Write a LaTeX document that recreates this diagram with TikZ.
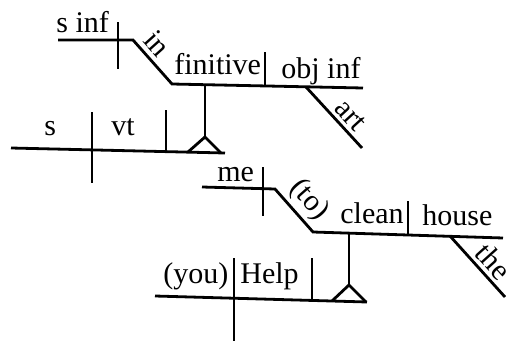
\documentclass[tikz,border=0pt]{standalone}
\usepackage{fontspec}
\setmainfont{Liberation Serif}
\begin{document}
\begin{tikzpicture}[x=0.5pt,y=-0.5pt, line width=1.4pt,
  ln/.style={draw=black, line width=1.4pt},
  lbl/.style={font=\fontsize{15}{18}\selectfont, inner sep=0pt, anchor=base west},
  rlbl/.style={font=\fontsize{15}{18}\selectfont, inner sep=0pt, anchor=base}]
\useasboundingbox (0,0) rectangle (510,343);
% ---------- upper diagram ----------
\coordinate (a1) at (58,40);
\coordinate (a2) at (133,40);
\coordinate (a3) at (172,84);
\coordinate (a4) at (363,88);
\coordinate (t1a) at (118,22);
\coordinate (t1b) at (118,69);
\coordinate (d1a) at (265,52);
\coordinate (d1b) at (265,86);
\coordinate (r1a) at (306,87);
\coordinate (r1b) at (362,148);
\coordinate (s1a) at (205,85);
\coordinate (s1b) at (205,137);
\coordinate (tr1l) at (188,152);
\coordinate (tr1r) at (221,153);
\coordinate (m1a) at (11,148);
\coordinate (m1b) at (225,153);
\coordinate (k1a) at (92,112);
\coordinate (k1b) at (92,183);
\coordinate (v1a) at (166,110);
\coordinate (v1b) at (166,152);
\draw[ln] (a1) -- (a2) -- (a3) -- (a4);
\draw[ln] (t1a) -- (t1b);
\draw[ln] (d1a) -- (d1b);
\draw[ln] (r1a) -- (r1b);
\draw[ln] (s1a) -- (s1b);
\draw[ln] (tr1l) -- (s1b) -- (tr1r);
\draw[ln] (m1a) -- (m1b);
\draw[ln] (k1a) -- (k1b);
\draw[ln] (v1a) -- (v1b);
\node[lbl] (tsinf) at (55,32) {s inf};
\node[rlbl, rotate=-48] (tin) at (150.2,50.2) {in};
\node[lbl] (tfin) at (173,74) {finitive};
\node[lbl] (tobj) at (280,78) {obj inf};
\node[rlbl, rotate=-47.5] (tart) at (344.2,121.3) {art};
\node[lbl] (ts) at (43,135) {s};
\node[lbl] (tvt) at (110,135) {vt};
% ---------- lower diagram ----------
\coordinate (b1) at (202,187);
\coordinate (b2) at (275,189);
\coordinate (b3) at (313,232);
\coordinate (b4) at (503,238);
\coordinate (t2a) at (263,167);
\coordinate (t2b) at (263,216);
\coordinate (d2a) at (408,201);
\coordinate (d2b) at (408,235);
\coordinate (r2a) at (450,236);
\coordinate (r2b) at (505,297);
\coordinate (s2a) at (349,233);
\coordinate (s2b) at (349,285);
\coordinate (tr2l) at (332,301);
\coordinate (tr2r) at (366,302);
\coordinate (m2a) at (155,296);
\coordinate (m2b) at (367,302);
\coordinate (k2a) at (234,258);
\coordinate (k2b) at (234,341);
\coordinate (v2a) at (312,258);
\coordinate (v2b) at (312,300);
\draw[ln] (b1) -- (b2) -- (b3) -- (b4);
\draw[ln] (t2a) -- (t2b);
\draw[ln] (d2a) -- (d2b);
\draw[ln] (r2a) -- (r2b);
\draw[ln] (s2a) -- (s2b);
\draw[ln] (tr2l) -- (s2b) -- (tr2r);
\draw[ln] (m2a) -- (m2b);
\draw[ln] (k2a) -- (k2b);
\draw[ln] (v2a) -- (v2b);
\node[lbl] (tme) at (216,181) {me};
\node[rlbl, rotate=-48.5] (tto) at (303.4,204.5) {(to)};
\node[lbl] (tclean) at (339,223) {clean};
\node[lbl] (thouse) at (421,225) {house};
\node[rlbl, rotate=-48] (tthe) at (485.9,268.4) {the};
\node[lbl] (tyou) at (162,283) {(you)};
\node[lbl] (thelp) at (239,283) {Help};
\end{tikzpicture}
\end{document}
